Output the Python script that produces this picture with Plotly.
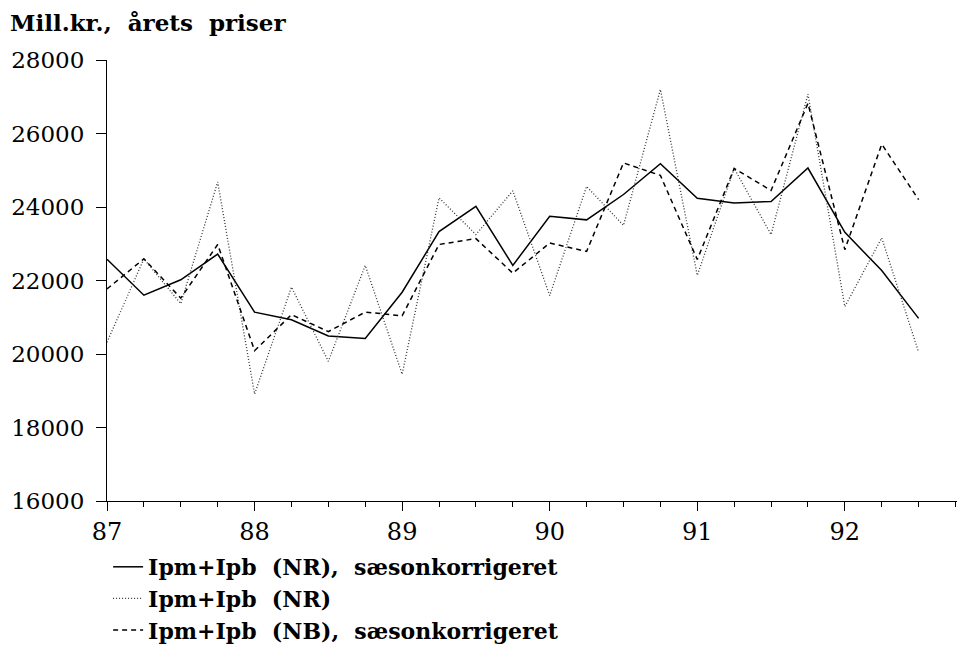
import plotly.graph_objects as go

# Quarterly periods (year, 19xx)
period = [87.0, 87.25, 87.5, 87.75, 88.0, 88.25, 88.5, 88.75,
          89.0, 89.25, 89.5, 89.75, 90.0, 90.25, 90.5, 90.75,
          91.0, 91.25, 91.5, 91.75, 92.0, 92.25, 92.5]

# Ipm+Ipb (NR), sæsonkorrigeret
nr_sa = [22580, 21600, 22020, 22720, 21140, 20930, 20490, 20420,
         21680, 23330, 24020, 22410, 23750, 23650, 24340, 25180,
         24240, 24110, 24150, 25060, 23310, 22270, 20970]

# Ipm+Ipb (NR)
nr_raw = [20320, 22590, 21370, 24680, 18910, 21820, 19800, 22410,
          19450, 24250, 23250, 24440, 21590, 24560, 23500, 27200,
          22140, 25050, 23250, 27070, 21290, 23160, 20050]

# Ipm+Ipb (NB), sæsonkorrigeret
nb_sa = [21770, 22590, 21520, 22980, 20090, 21070, 20610, 21140,
         21040, 22980, 23140, 22200, 23020, 22790, 25200, 24860,
         22570, 25050, 24450, 26820, 22840, 25710, 24200]

series_names = ["Ipm+Ipb\u00a0 (NR),\u00a0 sæsonkorrigeret",
                "Ipm+Ipb\u00a0 (NR)",
                "Ipm+Ipb\u00a0 (NB),\u00a0 sæsonkorrigeret"]

x_tickvals = [87, 88, 89, 90, 91, 92]
x_ticktext = ["87", "88", "89", "90", "91", "92"]
y_tickvals = [16000, 18000, 20000, 22000, 24000, 26000, 28000]
y_ticktext = ["16000", "18000", "20000", "22000", "24000", "26000", "28000"]

FONT = "DejaVu Serif"

fig = go.Figure()
fig.add_trace(go.Scatter(x=period, y=nr_sa, mode="lines", name=series_names[0],
                         line=dict(color="black", width=1.5)))
fig.add_trace(go.Scatter(x=period, y=nr_raw, mode="lines", name=series_names[1],
                         line=dict(color="#333333", width=1.3, dash="1px,2px")))
fig.add_trace(go.Scatter(x=period, y=nb_sa, mode="lines", name=series_names[2],
                         line=dict(color="black", width=1.5, dash="5px,4px")))

fig.update_layout(
    width=957, height=647,
    margin=dict(l=107, r=0, t=60, b=146),
    paper_bgcolor="white", plot_bgcolor="white",
    font=dict(family=FONT, size=23, color="black"),
    showlegend=True,
    legend=dict(x=0.0013, xref="paper", y=0.1561, yref="container",
                xanchor="left", yanchor="top",
                bgcolor="rgba(0,0,0,0)", borderwidth=0,
                font=dict(family=FONT, size=22, color="black", weight="bold"),
                tracegroupgap=0, itemwidth=30),
    annotations=[dict(text="Mill.kr.,\u00a0 årets\u00a0 priser", xref="paper", yref="paper",
                      x=-0.1165, y=1.12, xanchor="left", yanchor="top", showarrow=False,
                      font=dict(family=FONT, size=23, color="black", weight="bold"))],
)

fig.update_xaxes(range=[87, 92.76], showgrid=False, zeroline=False, automargin=False,
                 showline=True, linecolor="black", linewidth=1.2,
                 ticks="outside", ticklen=9, tickwidth=1.2, tickcolor="black",
                 tickvals=x_tickvals, ticktext=x_ticktext,
                 tickfont=dict(family=FONT, size=24, color="black"),
                 minor=dict(tick0=87, dtick=0.25, ticks="outside", ticklen=5,
                            tickwidth=1.2, tickcolor="black", showgrid=False))
fig.update_yaxes(range=[16000, 28000], showgrid=False, zeroline=False, automargin=False,
                 showline=True, linecolor="black", linewidth=1.2,
                 ticks="outside", ticklen=10, tickwidth=1.2, tickcolor="black",
                 ticklabelstandoff=7,
                 tickvals=y_tickvals, ticktext=y_ticktext,
                 tickfont=dict(family=FONT, size=23, color="black"))

fig.write_html("out.html", config={"displayModeBar": False},
               post_script="document.body.style.margin='0px';document.body.style.overflow='hidden';")
